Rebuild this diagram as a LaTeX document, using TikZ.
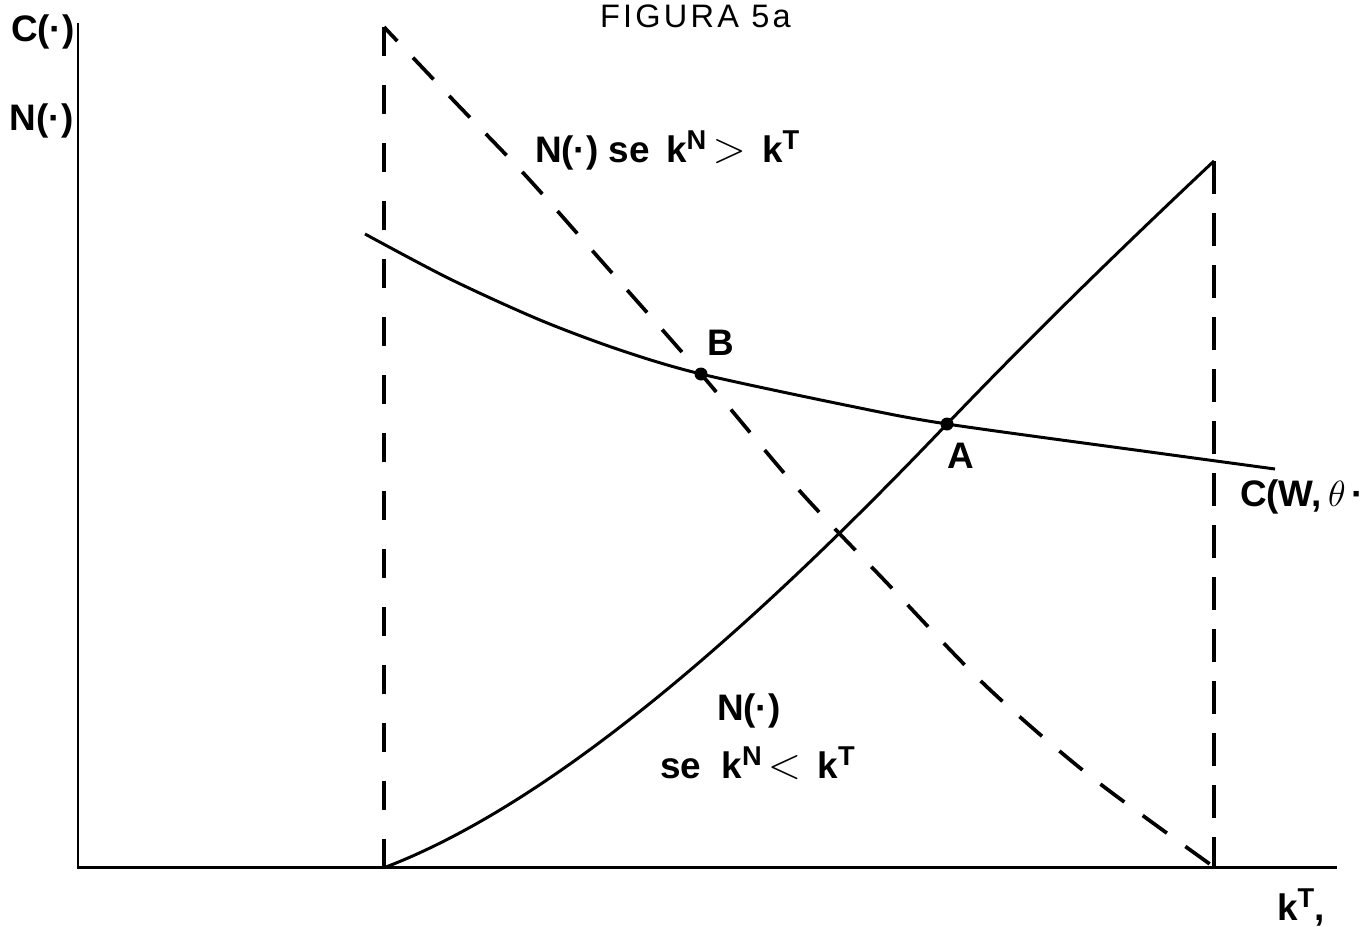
\documentclass[tikz,border=0pt]{standalone}
\usepackage{fontspec}
\setmainfont{Liberation Sans}
\begin{document}
\newcommand{\supx}[1]{\raisebox{7.4pt}{\fontsize{15.5}{16}\selectfont #1}}
\newcommand{\relx}[1]{{\fontsize{27}{27}\selectfont$#1$}}
\begin{tikzpicture}[x=0.02cm,y=-0.02cm,
  axis/.style={line width=1.7pt},
  curve/.style={line width=1.7pt, line join=round},
  dashv/.style={line width=2.1pt, dash pattern=on 16.5pt off 16.5pt},
  dashr/.style={line width=2.1pt, dash pattern=on 18.8pt off 10.8pt},
  dashd/.style={line width=2.1pt, dash pattern=on 17pt off 13pt, dash phase=6pt, line join=round},
  lbl/.style={inner sep=0pt, outer sep=0pt, anchor=base west, font=\fontsize{21}{25}\selectfont\bfseries},
  ttl/.style={inner sep=0pt, outer sep=0pt, anchor=base west, font=\fontsize{18.5}{20}\selectfont\addfontfeatures{LetterSpace=10}},
  pt/.style={circle, fill=black, inner sep=0pt, minimum size=0.26cm}]
\useasboundingbox (0,0) rectangle (1367,927);
% axes
\coordinate (O) at (78,867);
\coordinate (Ytop) at (78,23);
\coordinate (Xend) at (1337,867);
\draw[axis] (Ytop) -- (O) -- (Xend);
% dashed lines
\coordinate (Ltop) at (384,27);
\coordinate (Lbot) at (384,867);
\coordinate (Rtop) at (1214,161);
\coordinate (Rbot) at (1214,867);
\draw[dashv] (Ltop) -- (Lbot);
\draw[dashr] (Rtop) -- (Rbot);
\draw[dashd] plot[smooth, tension=0.5] coordinates {(384,27) (455.5,102.5) (526.5,176.5) (605,265) (701,374) (798,489) (886,582) (986,686) (1090,776) (1214,867)};
% C curve
\draw[curve] plot[smooth, tension=0.5] coordinates {(365,234) (450,279) (540,320) (620,350) (701,374) (850,406) (947,424) (1150,452) (1275,469)};
% points
\node[pt] (B) at (701,374) {};
\node[pt] (A) at (947,424) {};
% N curve
\coordinate (Nstart) at (386,867);
\draw[curve] (Nstart) .. controls (560,800) and (760,620) .. (A.center)
  .. controls (1040,327) and (1130,240) .. (Rtop);
% labels
\node[ttl] (title) at (600,27) {FIGURA 5a};
\node[lbl] (cy) at (11,41) {C(·)};
\node[lbl] (ny) at (10,130) {N(·)};
\node[lbl] (nhigh) at (535,162) {N(·) se\ \,k\supx{N}\,\relx{>}\ \,k\supx{T}};
\node[lbl] (lB) at (707,355) {B};
\node[lbl] (lA) at (947,468) {A};
\node[lbl] (lC) at (1240,506) {C(W,\,$\theta$\,·};
\node[lbl] (nlow1) at (717,720) {N(·)};
\node[lbl] (nlow2) at (660,778) {se\ \ k\supx{N}\,\relx{<}\ \,k\supx{T}};
\node[lbl] (kt) at (1277,920) {k\supx{T},};
\end{tikzpicture}
\end{document}
